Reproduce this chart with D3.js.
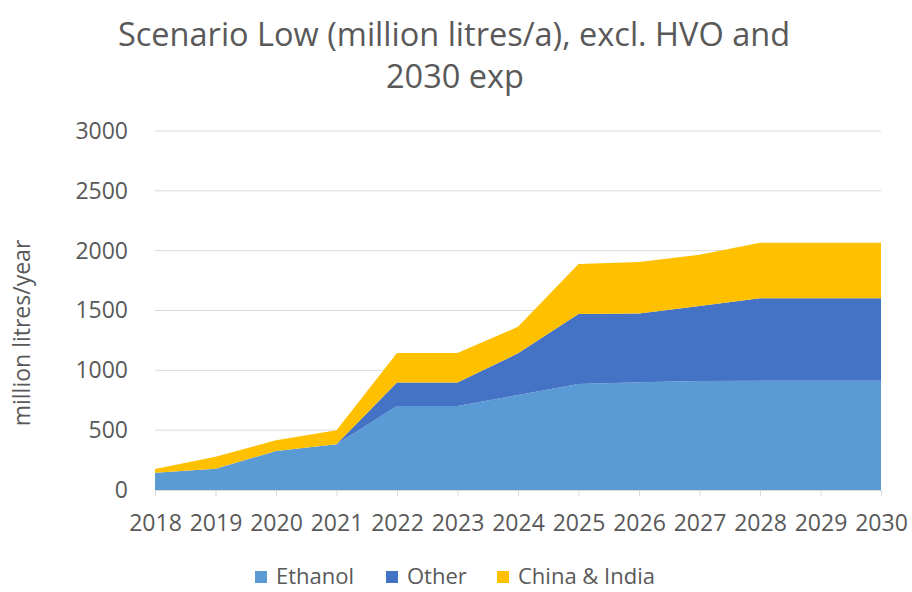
<!DOCTYPE html>
<html>
<head>
<meta charset="utf-8">
<script src="https://cdn.jsdelivr.net/npm/d3@7"></script>
<style>
  body { margin: 0; background: #fff; }
  text { font-family: "Open Sans", sans-serif; fill: #595959; }
</style>
</head>
<body>
<div id="chart"></div>
<script>
// data
let years = [2018, 2019, 2020, 2021, 2022, 2023, 2024, 2025, 2026, 2027, 2028, 2029, 2030];
let ethanol = [145, 178, 326, 382, 702, 702, 794, 886, 900, 910, 914, 914, 914];
let other = [0, 0, 0, 0, 197, 197, 348, 585, 575, 627, 688, 688, 688];
let chinaIndia = [30, 100, 90, 118, 245, 245, 222, 418, 430, 428, 465, 465, 465];
let seriesNames = ["Ethanol", "Other", "China & India"];
let colors = ["#5B9BD5", "#4472C4", "#FFC000"];
let yTicks = [0, 500, 1000, 1500, 2000, 2500, 3000];

let svgWidth = 912, svgHeight = 592;
let margin = { top: 131, right: 31, bottom: 102, left: 155 };
let width = svgWidth - margin.left - margin.right;
let height = svgHeight - margin.top - margin.bottom;

let svg = d3.select("#chart")
  .append("svg")
  .attr("width", svgWidth)
  .attr("height", svgHeight);

// title, two lines
svg.append("text")
  .attr("x", 454).attr("y", 46)
  .attr("text-anchor", "middle")
  .attr("font-size", "32.5px")
  .text("Scenario Low (million litres/a), excl. HVO and");
svg.append("text")
  .attr("x", 455).attr("y", 88)
  .attr("text-anchor", "middle")
  .attr("font-size", "32.5px")
  .text("2030 exp");

let chartGroup = svg.append("g")
  .attr("transform", `translate(${margin.left}, ${margin.top})`);

let x = d3.scaleLinear().domain([2018, 2030]).range([0, width]);
let y = d3.scaleLinear().domain([0, 3000]).range([height, 0]);

// gridlines
chartGroup.append("g")
  .selectAll("line")
  .data(yTicks.filter(d => d > 0))
  .enter()
  .append("line")
  .attr("x1", 0).attr("x2", width)
  .attr("y1", d => y(d)).attr("y2", d => y(d))
  .attr("stroke", "#d9d9d9")
  .attr("stroke-width", 1);

// stacked areas
let table = years.map((yr, i) => ({
  year: yr, "Ethanol": ethanol[i], "Other": other[i], "China & India": chinaIndia[i]
}));
let stack = d3.stack().keys(seriesNames);
let layers = stack(table);

let area = d3.area()
  .x(d => x(d.data.year))
  .y0(d => y(d[0]))
  .y1(d => y(d[1]));

chartGroup.selectAll("path.layer")
  .data(layers)
  .enter()
  .append("path")
  .attr("class", "layer")
  .attr("d", area)
  .attr("fill", (d, i) => colors[i]);

// x axis
let xAxis = d3.axisBottom(x)
  .tickValues(years)
  .tickFormat(d3.format("d"))
  .tickSize(6)
  .tickPadding(19);
let xg = chartGroup.append("g")
  .attr("transform", `translate(0, ${height})`)
  .call(xAxis);
xg.select(".domain").attr("stroke", "#d9d9d9");
xg.selectAll(".tick line").attr("stroke", "#d9d9d9");
xg.selectAll(".tick text").attr("font-size", "23px").attr("fill", "#595959")
  .attr("font-family", "Open Sans");

// y axis (labels only)
let yAxis = d3.axisLeft(y).tickValues(yTicks).tickFormat(d3.format("d"))
  .tickSize(0).tickPadding(27);
let yg = chartGroup.append("g").call(yAxis);
yg.select(".domain").remove();
yg.selectAll(".tick text").attr("font-size", "23px").attr("fill", "#595959")
  .attr("font-family", "Open Sans");

// y axis title
svg.append("text")
  .attr("transform", "rotate(-90)")
  .attr("x", -333).attr("y", 30)
  .attr("text-anchor", "middle")
  .attr("font-size", "23px")
  .text("million litres/year");

// legend
let legendX = [255, 386, 497];
let legend = svg.append("g");
seriesNames.forEach((name, i) => {
  legend.append("rect")
    .attr("x", legendX[i]).attr("y", 571)
    .attr("width", 12).attr("height", 12)
    .attr("fill", colors[i]);
  legend.append("text")
    .attr("x", legendX[i] + 21).attr("y", 584)
    .attr("font-size", "22px")
    .text(name);
});
</script>
</body>
</html>
